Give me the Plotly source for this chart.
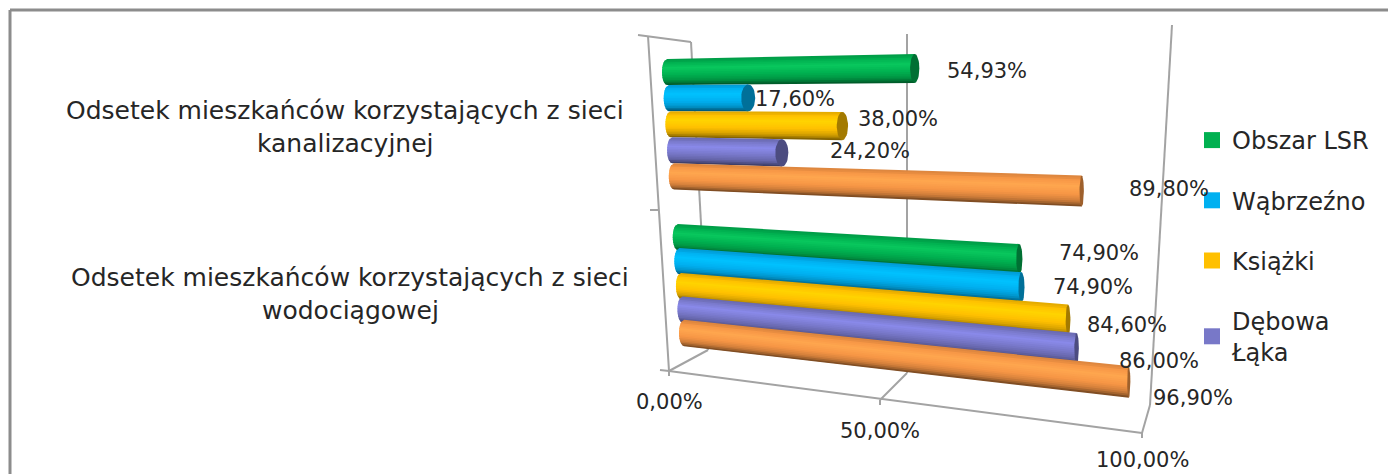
import numpy as np
import plotly.graph_objects as go

# ---- data ----
categories = ["Odsetek mieszkańców korzystających z sieci<br>kanalizacyjnej",
              "Odsetek mieszkańców korzystających z sieci<br>wodociągowej"]
obszar_lsr = [54.93, 74.90]
wabrzezno = [17.60, 74.90]
ksiazki = [38.00, 84.60]
debowa_laka = [24.20, 86.00]
piata_seria = [89.80, 96.90]
value_ticks = [0, 50, 100]
legend_names = ["Obszar LSR", "Wąbrzeźno", "Książki", "Dębowa<br>Łąka"]

# ---- styles and layout ----
series = [obszar_lsr, wabrzezno, ksiazki, debowa_laka, piata_seria]
colors = ["#00B050", "#00B0F0", "#FFC000", "#7878C8", "#F79646"]
highlights = ["#0AC85E", "#00C2FF", "#FFD400", "#8A8AEA", "#FFA74F"]
row_pos = [[0, .6325], [.1, .725], [.2, .82], [.3, .91], [.4, 1.0]]
label_off = [[(72, 3), (80, -6)], [(47, 1), (72, 0)], [(56, -7), (59, 5)], [(88, -2), (82, 12)], [(87, -2), (64, 16)]]
FONT = "DejaVu Sans"
TXT = "#262626"
GRID = "#A3A3A3"

# slanted plane of the 3-D chart: (value, row) -> pixel position
C00, C10, C01, C11 = (667, 72), (1118, 65.5), (684, 333), (1143, 383.5)


def proj(val, row):
    u = val / 100
    x = (1 - row) * ((1 - u) * C00[0] + u * C10[0]) + row * ((1 - u) * C01[0] + u * C11[0])
    y = (1 - row) * ((1 - u) * C00[1] + u * C10[1]) + row * ((1 - u) * C01[1] + u * C11[1])
    return x, y


def mix(c1, c2, k):
    a = np.array([int(c1[i:i + 2], 16) for i in (1, 3, 5)], float)
    d = np.array([int(c2[i:i + 2], 16) for i in (1, 3, 5)], float)
    r = a + (d - a) * k
    return "rgb(%d,%d,%d)" % tuple(r)


def shade(base, hi, t):
    """t: 0 top edge of the cylinder, 1 bottom edge"""
    stops = [(0, .12), (.12, .04), (.35, -1), (.62, 0), (.82, .16), (.93, .38), (1, .55)]
    for (a, ka), (b_, kb) in zip(stops, stops[1:]):
        if t <= b_:
            k = ka + (kb - ka) * (t - a) / (b_ - a)
            break
    if k < 0:
        return mix(base, hi, -k)
    return mix(base, "#000000", k)


fig = go.Figure()
N = 16
for s, vals in enumerate(series):
    for c, val in enumerate(vals):
        x0, y0 = proj(0, row_pos[s][c])
        x1, y1 = proj(val, row_pos[s][c])
        th0 = 26 + (x0 - 660) * 0.012
        th1 = 26 + (x1 - 660) * 0.012
        rx_l = 5
        rx_r = max(1.6, 7 - (x1 - 750) * 0.0145)
        for i in range(N):
            t0 = i / N
            t1 = min(1, (i + 1.6) / N)
            u0, u1 = 2 * t0 - 1, 2 * t1 - 1
            left = lambda u: x0 - rx_l * np.sqrt(max(0, 1 - u * u))
            px = [left(u0), x1, x1, left(u1)]
            py = [y0 + u0 * th0 / 2, y1 + u0 * th1 / 2, y1 + u1 * th1 / 2, y0 + u1 * th0 / 2]
            fig.add_trace(go.Scatter(x=px, y=py, mode="lines", fill="toself", line=dict(width=0),
                                     fillcolor=shade(colors[s], highlights[s], (i + .5) / N),
                                     hoverinfo="skip", showlegend=False))
        ang = np.linspace(0, 2 * np.pi, 36)
        fig.add_trace(go.Scatter(x=x1 + rx_r * np.cos(ang), y=y1 + th1 / 2 * np.sin(ang), mode="lines",
                                 fill="toself", line=dict(width=0), fillcolor=mix(colors[s], "#000000", .36),
                                 hoverinfo="skip", showlegend=False))

# value labels
for s, vals in enumerate(series):
    for c, val in enumerate(vals):
        x1, y1 = proj(val, row_pos[s][c])
        dx, dy = label_off[s][c]
        fig.add_annotation(x=x1 + dx, y=y1 + dy, text=f"{val:.2f}%".replace(".", ","), showarrow=False,
                           font=dict(family=FONT, size=21, color=TXT), xanchor="center", yanchor="middle")

# category labels, one annotation per text line
cat_pos = [[(345, 110), (345, 143)], [(350, 277), (350, 310)]]
for cat, pos in zip(categories, cat_pos):
    for line, (px, py) in zip(cat.split("<br>"), pos):
        fig.add_annotation(x=px, y=py, text=line, showarrow=False,
                           font=dict(family=FONT, size=25, color=TXT), xanchor="center", yanchor="middle")

# value-axis furniture
front_pts = [(669, 371), (880, 400), (1142, 433)]
back_pts = [(708, 350), (907, 373), (1150, 405)]
top_pts = [(691, 42), (907, 34), (1172, 25)]
tick_lab_dy = [31, 31, 27]
shapes = []


def seg(a, b_, w=2, col=GRID):
    shapes.append(dict(type="line", x0=a[0], y0=a[1], x1=b_[0], y1=b_[1], xref="x", yref="y",
                       layer="below", line=dict(color=col, width=w)))


for tv, f, bk, tp, dy in zip(value_ticks, front_pts, back_pts, top_pts, tick_lab_dy):
    seg(f, bk)
    seg(bk, tp)
    seg(f, (f[0], f[1] + 5))
    fig.add_annotation(x=f[0], y=f[1] + dy, text=f"{tv:.2f}%".replace(".", ","), showarrow=False,
                       font=dict(family=FONT, size=21, color=TXT), xanchor="center", yanchor="middle")
seg(front_pts[0], front_pts[-1])
seg((648, 36), front_pts[0])
seg((638, 35), (691, 42))
seg((650, 210), (658, 210))
seg((660, 370), front_pts[0])
# outer frame
seg((10, 474), (10, 10), 3, "#8C8C8C")
seg((10, 10), (1396, 10), 3, "#8C8C8C")

# legend
for name, col in zip(legend_names, colors):
    fig.add_trace(go.Scatter(x=[None], y=[None], mode="markers", name=name, legendgroup=name,
                             marker=dict(symbol="square", size=16, color=col)))

# the page keeps an 8 px body margin, so the canvas covers x 8..1396, y 8..474
fig.update_layout(
    width=1388, height=466, margin=dict(l=0, r=0, t=0, b=0), paper_bgcolor="white", plot_bgcolor="white",
    xaxis=dict(range=[8, 1396], visible=False, fixedrange=True),
    yaxis=dict(range=[474, 8], visible=False, fixedrange=True),
    shapes=shapes,
    legend=dict(x=(1192 - 8) / 1388, y=1 - (118 - 8) / 466, xanchor="left", yanchor="top", tracegroupgap=26,
                font=dict(family=FONT, size=24, color=TXT), bgcolor="rgba(0,0,0,0)", itemwidth=30),
)
fig.write_html("out.html")
